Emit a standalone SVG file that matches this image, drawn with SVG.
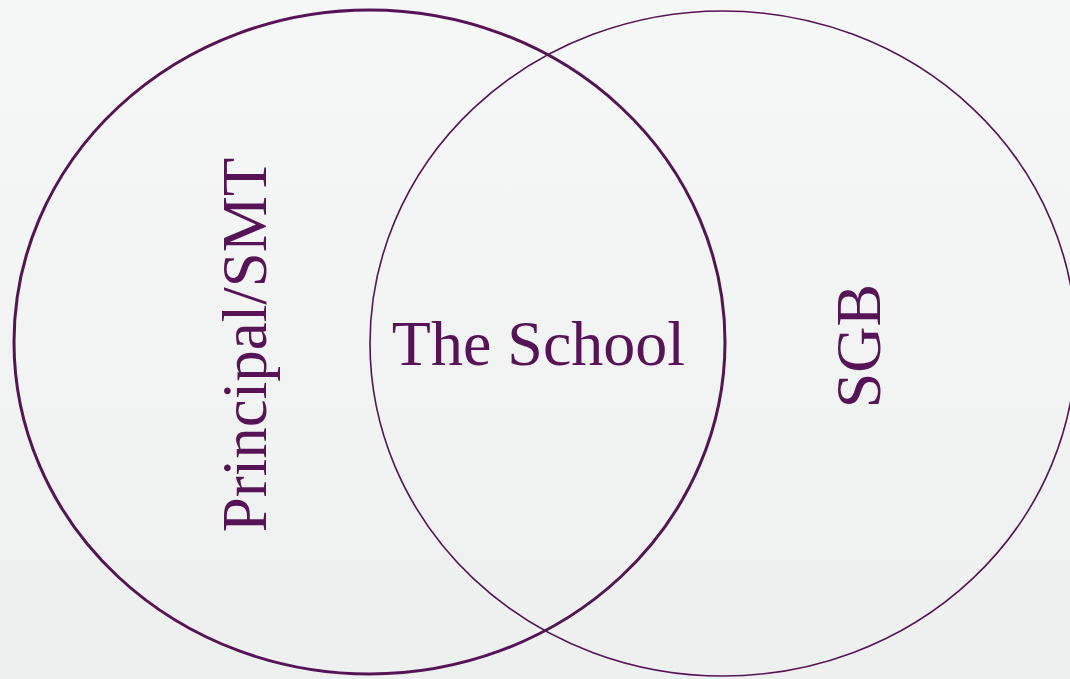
<svg xmlns="http://www.w3.org/2000/svg" width="1070" height="679" viewBox="0 0 1070 679">
  <defs>
    <linearGradient id="bg" x1="0" y1="0" x2="0" y2="1">
      <stop offset="0" stop-color="#f6f7f7"/>
      <stop offset="1" stop-color="#eef0f0"/>
    </linearGradient>
    <style>
      .set { fill: none; stroke: #561456; }
      .label { font-family: "Liberation Serif", "Times New Roman", serif; font-size: 63px; fill: #561456; text-anchor: middle; }
    </style>
  </defs>
  <rect x="0" y="0" width="1070" height="679" fill="url(#bg)"/>

  <!-- Principal/SMT set -->
  <g id="principal-smt">
    <ellipse class="set" cx="369.5" cy="342" rx="355.5" ry="332" stroke-width="3"/>
    <text class="label" transform="translate(266 345) rotate(-90)">Principal/SMT</text>
  </g>

  <!-- SGB set -->
  <g id="sgb">
    <ellipse class="set" cx="723" cy="343.5" rx="353" ry="332.5" stroke-width="1.6"/>
    <text class="label" transform="translate(880 346) rotate(-90)" style="font-size:64px">SGB</text>
  </g>

  <!-- Overlap label -->
  <g id="the-school">
    <text class="label" x="538.5" y="365" style="font-size:64px">The School</text>
  </g>
</svg>
